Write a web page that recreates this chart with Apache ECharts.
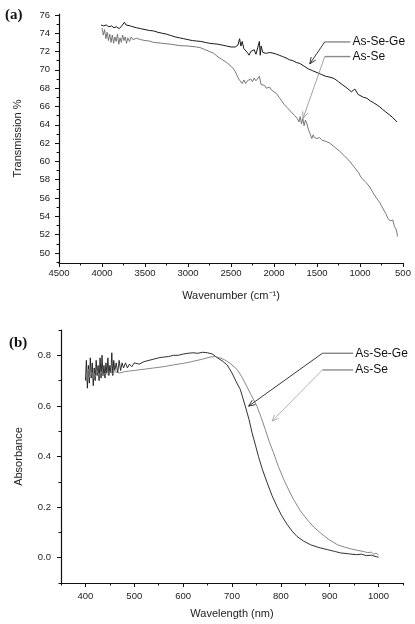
<!DOCTYPE html>
<html>
<head>
<meta charset="utf-8">
<script src="https://cdn.jsdelivr.net/npm/echarts@6/dist/echarts.min.js"></script>
<style>
html,body{margin:0;padding:0;background:#fff;}
#c{width:415px;height:624px;}
</style>
</head>
<body>
<div id="c"></div>
<script>
// ---------- Panel (a): transmission vs wavenumber ----------
const wnAsSeGe = [4010,3980,3950,3920,3890,3860,3830,3800,3770,3740,3720,3700,3670,3640,3600,3550,3500,3450,3400,3350,3300,3250,3200,3150,3100,3050,3000,2950,2900,2850,2800,2750,2700,2650,2600,2550,2500,2450,2420,2400,2385,2370,2350,2330,2310,2290,2270,2250,2230,2210,2190,2170,2160,2150,2130,2110,2090,2070,2050,2030,2000,1970,1940,1900,1860,1820,1780,1740,1700,1650,1600,1550,1500,1450,1400,1350,1300,1250,1200,1150,1100,1080,1060,1040,1020,1000,960,920,880,840,800,770,740,700,660,620,590,570];
const trAsSeGe = [74.9,74.8,74.9,74.7,74.8,74.6,74.7,74.5,74.8,75.2,74.9,75.0,74.8,74.7,74.6,74.5,74.4,74.3,74.25,74.1,74.0,73.9,73.75,73.6,73.5,73.4,73.3,73.2,73.15,73.1,73.0,72.9,72.85,72.8,72.7,72.6,72.5,72.5,72.7,73.4,72.6,73.1,72.3,72.1,71.9,71.6,72.0,71.8,72.2,71.7,72.4,73.1,71.6,72.6,71.9,72.1,71.8,72.0,71.9,72.1,71.8,71.7,71.6,71.45,71.3,71.1,71.0,70.8,70.7,70.4,70.1,69.9,69.7,69.5,69.3,69.2,69.05,68.7,68.35,68.0,67.6,67.45,67.9,67.7,67.3,67.2,67.0,66.9,66.6,66.4,66.15,65.95,65.7,65.4,65.1,64.8,64.5,64.3];
const wnAsSe = [4000,3985,3970,3955,3940,3925,3910,3895,3880,3865,3850,3835,3820,3805,3790,3775,3760,3745,3730,3715,3700,3680,3660,3640,3600,3550,3500,3450,3400,3300,3200,3100,3000,2900,2850,2800,2750,2700,2650,2600,2550,2500,2470,2450,2430,2410,2390,2370,2350,2330,2310,2290,2270,2250,2230,2210,2190,2170,2150,2130,2110,2090,2070,2050,2030,2000,1970,1940,1910,1880,1850,1820,1790,1760,1730,1710,1695,1680,1665,1650,1635,1620,1600,1580,1560,1545,1530,1515,1500,1470,1440,1400,1352,1300,1235,1180,1119,1061,1020,983,930,886,850,809,770,736,700,677,650,630,619,600,576,564];
const trAsSe = [74.6,73.8,74.4,73.4,74.1,73.2,73.9,73.0,73.8,72.9,73.6,73.1,73.9,72.8,73.5,73.0,73.8,73.2,73.6,72.9,73.5,73.1,73.6,73.3,73.45,73.3,73.2,73.15,73.0,72.9,72.8,72.65,72.6,72.5,72.4,72.2,72.0,71.8,71.4,71.1,70.8,70.4,70.1,69.8,69.4,69.0,68.8,68.5,68.9,68.5,68.8,68.6,69.0,68.7,69.1,68.8,68.6,69.3,68.4,68.2,68.3,68.0,67.9,68.1,67.8,67.6,67.4,67.0,66.6,66.2,65.9,65.6,65.3,65.0,64.7,64.3,64.9,64.1,64.7,63.9,64.5,64.2,63.5,63.0,62.5,62.9,62.6,62.8,62.5,62.6,62.3,62.2,62.0,61.6,61.1,60.6,60.0,59.3,58.8,58.2,57.7,57.2,56.6,56.0,55.5,54.9,54.3,53.8,53.5,53.7,53.6,52.9,52.5,51.8];
const wnTicks = [500,1000,1500,2000,2500,3000,3500,4000,4500];
const wnMinor = [750,1250,1750,2250,2750,3250,3750,4250];
const trTicks = [50,52,54,56,58,60,62,64,66,68,70,72,74,76];
const trMinor = [49,51,53,55,57,59,61,63,65,67,69,71,73,75];

// ---------- Panel (b): absorbance vs wavelength ----------
const wlAsSeGe = [400,402,404,406,408,410,412,414,416,418,420,422,424,426,428,430,432,434,436,438,440,442,444,446,448,450,452,454,456,458,460,463,466,469,472,475,478,482,486,490,495,500,510,520,530,540,550,560,570,580,590,600,610,620,630,640,650,660,670,680,690,700,710,717,727,735,741,748,754,762,772,782,792,802,813,823,833,847,861,878,895,910,922,940,955,965,975,985,995,1000];
const abAsSeGe = [0.70,0.78,0.67,0.76,0.69,0.79,0.71,0.77,0.68,0.75,0.70,0.78,0.72,0.76,0.70,0.79,0.71,0.80,0.72,0.76,0.71,0.77,0.73,0.79,0.72,0.76,0.73,0.81,0.72,0.78,0.74,0.77,0.73,0.78,0.74,0.77,0.75,0.77,0.75,0.765,0.755,0.77,0.765,0.775,0.78,0.785,0.79,0.793,0.795,0.80,0.80,0.805,0.808,0.81,0.808,0.812,0.81,0.805,0.79,0.778,0.762,0.73,0.69,0.665,0.60,0.545,0.494,0.445,0.401,0.35,0.296,0.245,0.203,0.165,0.131,0.105,0.084,0.065,0.051,0.04,0.032,0.025,0.019,0.015,0.012,0.014,0.008,0.010,0.004,0.002];
const wlAsSe = [400,403,406,409,412,415,418,421,424,428,432,436,440,445,450,455,460,470,480,490,500,520,540,560,580,600,620,640,655,665,675,685,695,710,720,730,740,751,760,768,776,785,795,806,816,826,840,854,867,881,898,916,930,945,960,970,978,985,990,995,1000];
const abAsSe = [0.74,0.70,0.745,0.71,0.735,0.705,0.73,0.715,0.74,0.72,0.735,0.72,0.73,0.725,0.735,0.728,0.735,0.73,0.735,0.738,0.74,0.745,0.75,0.755,0.762,0.768,0.776,0.785,0.793,0.795,0.79,0.782,0.77,0.745,0.715,0.678,0.64,0.599,0.553,0.507,0.46,0.415,0.36,0.309,0.268,0.230,0.185,0.150,0.122,0.098,0.072,0.051,0.042,0.034,0.028,0.024,0.02,0.022,0.014,0.018,0.01];
const wlTicks = [400,500,600,700,800,900,1000];
const wlMinor = [350,450,550,650,750,850,950,1050];
const abTicks = [0.0,0.2,0.4,0.6,0.8];
const abMinor = [-0.1,0.1,0.3,0.5,0.7,0.9];

const seriesNames = ['As-Se-Ge','As-Se'];

function zip(a,b){ return a.map((v,i)=>[v,b[i]]); }

const AX = '#111';
const labelFont = {fontSize:9.5, color:'#222', fontFamily:'Liberation Sans, Arial, sans-serif'};
const nameFont = {fontSize:11, color:'#222', fontFamily:'Liberation Sans, Arial, sans-serif'};

function majorAxis(gi, opts){
  return Object.assign({
    gridIndex: gi, type:'value', splitLine:{show:false},
    axisLine:{show:true, onZero:false, lineStyle:{color:AX, width:1.2}},
  }, opts);
}
function minorAxis(gi, opts, vals){
  return Object.assign({
    gridIndex: gi, type:'value', splitLine:{show:false},
    axisLine:{show:false, onZero:false},
    axisTick:{show:true, length:2.5, customValues:vals, lineStyle:{color:AX}},
    axisLabel:{show:false}
  }, opts);
}

const chart = echarts.init(document.getElementById('c'), null, {renderer:'canvas'});

const option = {
  animation:false,
  backgroundColor:'#fff',
  grid:[
    {left:59, top:14, width:344, height:249},
    {left:61, top:330, width:342, height:253}
  ],
  xAxis:[
    majorAxis(0,{min:500,max:4500,inverse:true,position:'bottom',
      axisTick:{show:true,length:4,customValues:wnTicks,lineStyle:{color:AX}},
      axisLabel:Object.assign({customValues:wnTicks,margin:5,formatter:v=>String(v)},labelFont),
      name:'Wavenumber (cm\u207B\u00B9)', nameLocation:'middle', nameGap:27, nameTextStyle:nameFont}),
    minorAxis(0,{min:500,max:4500,inverse:true,position:'bottom'}, wnMinor),
    majorAxis(1,{min:350,max:1050,position:'bottom',
      axisTick:{show:true,length:4,customValues:wlTicks,lineStyle:{color:AX}},
      axisLabel:Object.assign({customValues:wlTicks,margin:8,formatter:v=>String(v)},labelFont),
      name:'Wavelength (nm)', nameLocation:'middle', nameGap:25, nameTextStyle:nameFont}),
    minorAxis(1,{min:350,max:1050,position:'bottom'}, wlMinor)
  ],
  yAxis:[
    majorAxis(0,{min:48.9,max:76.1,position:'left',
      axisTick:{show:true,length:4,customValues:trTicks,lineStyle:{color:AX}},
      axisLabel:Object.assign({customValues:trTicks,margin:9,formatter:v=>String(v)},labelFont),
      name:'Transmission %', nameLocation:'middle', nameGap:36, nameTextStyle:nameFont}),
    minorAxis(0,{min:48.9,max:76.1,position:'left'}, trMinor),
    majorAxis(1,{min:-0.1,max:0.9,position:'left',
      axisTick:{show:true,length:4,customValues:abTicks,lineStyle:{color:AX}},
      axisLabel:Object.assign({customValues:abTicks,margin:10,formatter:v=>v.toFixed(1)},labelFont),
      name:'Absorbance', nameLocation:'middle', nameGap:37, nameTextStyle:nameFont}),
    minorAxis(1,{min:-0.1,max:0.9,position:'left'}, abMinor)
  ],
  series:[
    {name:seriesNames[0], type:'line', xAxisIndex:0, yAxisIndex:0, data:zip(wnAsSeGe,trAsSeGe),
      showSymbol:false, lineStyle:{color:'#1a1a1a', width:1}},
    {name:seriesNames[1], type:'line', xAxisIndex:0, yAxisIndex:0, data:zip(wnAsSe,trAsSe),
      showSymbol:false, lineStyle:{color:'#6a6a6a', width:0.9}},
    {name:seriesNames[0], type:'line', xAxisIndex:2, yAxisIndex:2, data:zip(wlAsSeGe,abAsSeGe),
      showSymbol:false, lineStyle:{color:'#1a1a1a', width:0.9}},
    {name:seriesNames[1], type:'line', xAxisIndex:2, yAxisIndex:2, data:zip(wlAsSe,abAsSe),
      showSymbol:false, lineStyle:{color:'#7a7a7a', width:0.9}}
  ]
};
chart.setOption(option);

// ---------- annotations (anchored in data coordinates) ----------
const annots = [
  {grid:0, label:seriesNames[0], tip:[1584,70.65], elbow:[1410,73.05], text:[1100,73.05], color:'#222'},
  {grid:0, label:seriesNames[1], tip:[1662,64.7], elbow:[1410,71.45], text:[1100,71.45], color:'#999'},
  {grid:1, label:seriesNames[0], tip:[734,0.599], elbow:[885,0.808], text:[950,0.808], color:'#222'},
  {grid:1, label:seriesNames[1], tip:[782,0.54], elbow:[885,0.742], text:[950,0.742], color:'#aaa'}
];
const els = [];
annots.forEach(a=>{
  const conv = p => chart.convertToPixel({xAxisIndex:a.grid*2, yAxisIndex:a.grid*2}, p);
  const tip = conv(a.tip), el = conv(a.elbow), tx = conv(a.text);
  els.push({type:'polyline', shape:{points:[[tx[0]-1,el[1]],el]}, style:{stroke:'#8a8a8a', lineWidth:1.4, fill:null}, z:10});
  els.push({type:'polyline', shape:{points:[el,tip]}, style:{stroke:a.color, lineWidth:0.9, fill:null}, z:10});
  const ang = Math.atan2(el[1]-tip[1], el[0]-tip[0]);
  const L = 7, sp = 0.4;
  els.push({type:'polyline', shape:{points:[
    [tip[0]+L*Math.cos(ang+sp), tip[1]+L*Math.sin(ang+sp)], tip,
    [tip[0]+L*Math.cos(ang-sp), tip[1]+L*Math.sin(ang-sp)]]},
    style:{stroke:a.color, lineWidth:0.9, fill:null}, z:10});
  els.push({type:'text', x:tx[0]+1, y:el[1], z:10,
    style:{text:a.label, fill:'#111', font:'12px "Liberation Sans", Arial, sans-serif', textVerticalAlign:'middle', textAlign:'left'}});
});
els.push({type:'text', left:5, top:8, style:{text:'(a)', fill:'#111', font:'bold 15px "Liberation Serif", "Times New Roman", serif'}});
els.push({type:'text', left:9, top:336, style:{text:'(b)', fill:'#111', font:'bold 15px "Liberation Serif", "Times New Roman", serif'}});
chart.setOption({graphic:els});
</script>
</body>
</html>
